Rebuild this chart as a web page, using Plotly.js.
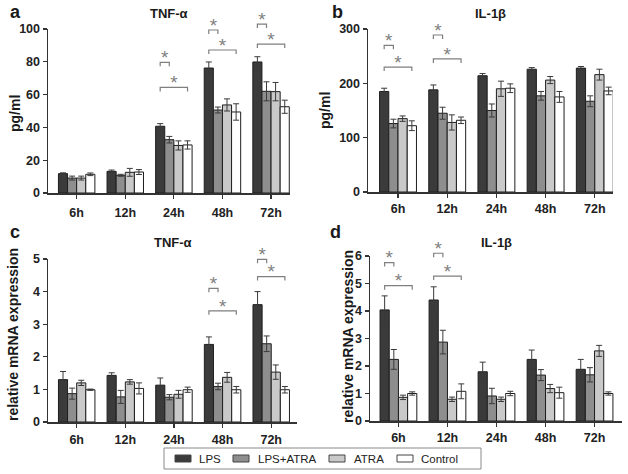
<!DOCTYPE html>
<html><head><meta charset="utf-8">
<script src="https://cdn.plot.ly/plotly-3.0.1.min.js"></script>
<style>html,body{margin:0;padding:0;background:#fff}#chart{width:628px;height:474px}</style>
</head><body><div id="chart"></div>
<script>
// ---------- data ----------
const categories = ['6h', '12h', '24h', '48h', '72h'];
const seriesNames = ['LPS', 'LPS+ATRA', 'ATRA', 'Control'];

// a: TNF-α protein (pg/ml)
const tnfProtLPS      = [11.8, 13.2, 40.7, 76.2, 79.9];
const tnfProtLPSErr   = [0.5, 0.8, 1.6, 3.7, 3.2];
const tnfProtLPSATRA  = [9.1, 10.8, 32.5, 50.6, 62.0];
const tnfProtLPSATRAErr = [1.2, 0.6, 2.0, 1.8, 5.8];
const tnfProtATRA     = [9.1, 12.6, 29.0, 53.7, 61.8];
const tnfProtATRAErr  = [1.2, 2.4, 2.8, 3.7, 5.6];
const tnfProtCtrl     = [11.4, 12.8, 29.3, 49.4, 52.6];
const tnfProtCtrlErr  = [0.8, 1.5, 2.5, 5.0, 4.0];

// b: IL-1β protein (pg/ml)
const ilProtLPS       = [185, 188, 214, 226, 228];
const ilProtLPSErr    = [6, 9, 4, 3, 3];
const ilProtLPSATRA   = [126, 145, 150, 177, 167];
const ilProtLPSATRAErr = [8, 11, 12, 8, 10];
const ilProtATRA      = [135, 128, 190, 206, 216];
const ilProtATRAErr   = [5, 14, 14, 6.5, 10];
const ilProtCtrl      = [122, 132, 191, 175, 186];
const ilProtCtrlErr   = [9, 6, 8, 10, 7];

// c: TNF-α relative mRNA expression
const tnfMrnaLPS      = [1.30, 1.43, 1.13, 2.38, 3.60];
const tnfMrnaLPSErr   = [0.25, 0.08, 0.22, 0.23, 0.40];
const tnfMrnaLPSATRA  = [0.87, 0.77, 0.76, 1.09, 2.40];
const tnfMrnaLPSATRAErr = [0.17, 0.20, 0.08, 0.10, 0.24];
const tnfMrnaATRA     = [1.20, 1.23, 0.85, 1.37, 1.53];
const tnfMrnaATRAErr  = [0.08, 0.07, 0.12, 0.15, 0.22];
const tnfMrnaCtrl     = [0.99, 1.03, 0.99, 0.99, 0.99];
const tnfMrnaCtrlErr  = [0.02, 0.17, 0.08, 0.10, 0.10];

// d: IL-1β relative mRNA expression
const ilMrnaLPS       = [4.04, 4.40, 1.79, 2.24, 1.88];
const ilMrnaLPSErr    = [0.51, 0.48, 0.35, 0.34, 0.36];
const ilMrnaLPSATRA   = [2.24, 2.87, 0.91, 1.67, 1.68];
const ilMrnaLPSATRAErr = [0.36, 0.43, 0.28, 0.20, 0.26];
const ilMrnaATRA      = [0.86, 0.79, 0.79, 1.18, 2.55];
const ilMrnaATRAErr   = [0.08, 0.08, 0.08, 0.15, 0.20];
const ilMrnaCtrl      = [1.00, 1.08, 1.00, 1.03, 1.00];
const ilMrnaCtrlErr   = [0.06, 0.27, 0.08, 0.20, 0.06];

// significance brackets (always from LPS to the named group)
const sigACats = ['24h', '24h', '48h', '48h', '72h', '72h'];
const sigATo   = ['LPS+ATRA', 'Control', 'LPS+ATRA', 'Control', 'LPS+ATRA', 'Control'];
const sigAY    = [79.7, 64.4, 99.4, 87.2, 103.0, 90.8];
const sigBCats = ['6h', '6h', '12h', '12h'];
const sigBTo   = ['LPS+ATRA', 'Control', 'LPS+ATRA', 'Control'];
const sigBY    = [270, 230, 289, 245];
const sigCCats = ['48h', '48h', '72h', '72h'];
const sigCTo   = ['LPS+ATRA', 'Control', 'LPS+ATRA', 'Control'];
const sigCY    = [4.10, 3.41, 4.99, 4.46];
const sigDCats = ['6h', '6h', '12h', '12h'];
const sigDTo   = ['LPS+ATRA', 'Control', 'LPS+ATRA', 'Control'];
const sigDY    = [5.76, 4.92, 6.10, 5.27];

// ---------- styling ----------
const W = 628, H = 474;
const FONT = 'Liberation Sans, Arial, sans-serif';
const seriesColors = ['#3b3b3b', '#8e8e8e', '#c9c9c9', '#ffffff'];
const BARGAP = 0.25;
const SIG_COLOR = '#7f7f7f';

const panels = [
  { letter: 'a', title: 'TNF-α', ytitle: 'pg/ml', ymax: 100, dtick: 20,
    vals: [tnfProtLPS, tnfProtLPSATRA, tnfProtATRA, tnfProtCtrl],
    errs: [tnfProtLPSErr, tnfProtLPSATRAErr, tnfProtATRAErr, tnfProtCtrlErr],
    sig: [sigACats, sigATo, sigAY],
    px: [48, 290], py: [29, 193], xr: [-0.59, 4.39],
    letterPos: [15, 12], titleY: 13, ytPos: [15, 114], standoff: 3 },
  { letter: 'b', title: 'IL-1β', ytitle: 'pg/ml', ymax: 300, dtick: 100,
    vals: [ilProtLPS, ilProtLPSATRA, ilProtATRA, ilProtCtrl],
    errs: [ilProtLPSErr, ilProtLPSATRAErr, ilProtATRAErr, ilProtCtrlErr],
    sig: [sigBCats, sigBTo, sigBY],
    px: [368, 613], py: [29, 192], xr: [-0.61, 4.37],
    letterPos: [337, 12], titleY: 13, ytPos: [325, 111], standoff: 0 },
  { letter: 'c', title: 'TNF-α', ytitle: 'relative mRNA expression', ymax: 5, dtick: 1,
    vals: [tnfMrnaLPS, tnfMrnaLPSATRA, tnfMrnaATRA, tnfMrnaCtrl],
    errs: [tnfMrnaLPSErr, tnfMrnaLPSATRAErr, tnfMrnaATRAErr, tnfMrnaCtrlErr],
    sig: [sigCCats, sigCTo, sigCY],
    px: [48, 297], py: [259, 422], xr: [-0.59, 4.53],
    letterPos: [15, 232], titleY: 243, ytPos: [13, 335], standoff: 1 },
  { letter: 'd', title: 'IL-1β', ytitle: 'relative mRNA expression', ymax: 6, dtick: 1,
    vals: [ilMrnaLPS, ilMrnaLPSATRA, ilMrnaATRA, ilMrnaCtrl],
    errs: [ilMrnaLPSErr, ilMrnaLPSATRAErr, ilMrnaATRAErr, ilMrnaCtrlErr],
    sig: [sigDCats, sigDTo, sigDY],
    px: [370, 622], py: [256, 421], xr: [-0.58, 4.56],
    letterPos: [335, 232], titleY: 243, ytPos: [348, 337], standoff: 0 }
];

// legend geometry (pixels)
const legendBox = [164, 448, 481, 469];
const legendSwatchX = [175, 233, 329, 397];
const legendTextX = [197, 256, 352, 419];

const xIdx = categories.map((c, i) => i);
const nS = seriesNames.length;
function barOffset(k) { return -(1 - BARGAP) / 2 + (k + 0.5) * (1 - BARGAP) / nS; }

const traces = [];
const annotations = [];
const shapes = [];
const layout = {
  width: W, height: H, margin: { l: 0, r: 0, t: 0, b: 0 },
  paper_bgcolor: '#fff', plot_bgcolor: 'rgba(0,0,0,0)',
  font: { family: FONT, color: '#222' },
  barmode: 'group', bargap: BARGAP, bargroupgap: 0,
  showlegend: false,
  annotations: annotations, shapes: shapes
};

panels.forEach((p, pi) => {
  const sfx = pi === 0 ? '' : String(pi + 1);
  const xa = 'x' + sfx, ya = 'y' + sfx;
  const sigSfx = String(pi + 5), yaSig = 'y' + sigSfx;
  for (let k = 0; k < nS; k++) {
    traces.push({
      type: 'bar', x: xIdx, y: p.vals[k], name: seriesNames[k],
      xaxis: xa, yaxis: ya, legendgroup: seriesNames[k],
      marker: { color: seriesColors[k], line: { color: '#1e1e1e', width: 1 } },
      error_y: { type: 'data', array: p.errs[k], visible: true, color: '#3a3a3a', thickness: 1, width: 3 },
      hoverinfo: 'skip'
    });
  }
  // invisible taller axis with the same value scale, so brackets above the top are not clipped
  const axisPx = p.py[1] - p.py[0];
  const extTopPx = Math.max(0, p.py[0] - 22);
  const extMax = p.ymax * (p.py[1] - extTopPx) / axisPx;
  layout['yaxis' + sigSfx] = {
    domain: [1 - p.py[1] / H, 1 - extTopPx / H], anchor: xa, range: [0, extMax],
    visible: false, showgrid: false, zeroline: false, fixedrange: true
  };
  const [cats, tos, ys] = p.sig;
  const tick = p.ymax * 4 / axisPx;
  const starOff = p.ymax * 3 / axisPx;
  const bx = [], by = [], sx = [], sy = [];
  cats.forEach((c, j) => {
    const ci = categories.indexOf(c);
    const x0 = ci + barOffset(0);
    const x1 = ci + barOffset(seriesNames.indexOf(tos[j]));
    bx.push(x0, x0, x1, x1, null);
    by.push(ys[j] - tick, ys[j], ys[j], ys[j] - tick, null);
    sx.push((x0 + x1) / 2);
    sy.push(ys[j] + starOff);
  });
  traces.push({
    type: 'scatter', mode: 'lines', x: bx, y: by, xaxis: xa, yaxis: yaSig,
    line: { color: SIG_COLOR, width: 1.2 }, showlegend: false, hoverinfo: 'skip'
  });
  traces.push({
    type: 'scatter', mode: 'text', x: sx, y: sy, text: sx.map(() => '*'), xaxis: xa, yaxis: yaSig,
    textposition: 'middle center', textfont: { size: 19, color: SIG_COLOR, family: FONT },
    cliponaxis: false, showlegend: false, hoverinfo: 'skip'
  });

  layout['xaxis' + sfx] = {
    domain: [p.px[0] / W, p.px[1] / W], anchor: ya, range: p.xr,
    tickmode: 'array', tickvals: xIdx, ticktext: categories,
    showgrid: false, zeroline: false, showline: true, linecolor: '#333', linewidth: 1.5,
    ticks: 'outside', ticklen: 4, tickwidth: 1.2, tickcolor: '#333',
    ticklabelstandoff: p.standoff,
    tickfont: { family: FONT, size: 12.5, color: '#222', weight: 'bold' }, fixedrange: true
  };
  layout['yaxis' + sfx] = {
    domain: [1 - p.py[1] / H, 1 - p.py[0] / H], anchor: xa, range: [0, p.ymax],
    tick0: 0, dtick: p.dtick, showgrid: false, zeroline: false,
    showline: true, linecolor: '#333', linewidth: 1.5,
    ticks: 'outside', ticklen: 4, tickwidth: 1.2, tickcolor: '#333',
    tickfont: { family: FONT, size: 12.5, color: '#222', weight: 'bold' }, fixedrange: true
  };
  annotations.push({ xref: 'paper', yref: 'paper', x: p.letterPos[0] / W, y: 1 - p.letterPos[1] / H,
    xanchor: 'center', yanchor: 'middle', showarrow: false, text: '<b>' + p.letter + '</b>',
    font: { family: FONT, size: 18, color: '#1a1a1a' } });
  annotations.push({ xref: 'paper', yref: 'paper', x: (p.px[0] + p.px[1]) / 2 / W, y: 1 - p.titleY / H,
    xanchor: 'center', yanchor: 'middle', showarrow: false, text: '<b>' + p.title + '</b>',
    font: { family: FONT, size: 13, color: '#1a1a1a' } });
  annotations.push({ xref: 'paper', yref: 'paper', x: p.ytPos[0] / W, y: 1 - p.ytPos[1] / H,
    xanchor: 'center', yanchor: 'middle', showarrow: false, textangle: -90, text: '<b>' + p.ytitle + '</b>',
    font: { family: FONT, size: 14, color: '#1a1a1a' } });
});

// legend: framed box with flat swatches
shapes.push({ type: 'rect', xref: 'paper', yref: 'paper',
  x0: legendBox[0] / W, x1: legendBox[2] / W, y0: 1 - legendBox[3] / H, y1: 1 - legendBox[1] / H,
  line: { color: '#8a8a8a', width: 1 }, fillcolor: '#fff' });
const legendMidY = (legendBox[1] + legendBox[3]) / 2;
seriesNames.forEach((name, k) => {
  shapes.push({ type: 'rect', xref: 'paper', yref: 'paper',
    x0: legendSwatchX[k] / W, x1: (legendSwatchX[k] + 16) / W,
    y0: 1 - (legendMidY + 3.5) / H, y1: 1 - (legendMidY - 3.5) / H,
    line: { color: '#444', width: 1 }, fillcolor: seriesColors[k] });
  annotations.push({ xref: 'paper', yref: 'paper', x: legendTextX[k] / W, y: 1 - legendMidY / H,
    xanchor: 'left', yanchor: 'middle', showarrow: false, text: name,
    font: { family: FONT, size: 11.5, color: '#222' } });
});

Plotly.newPlot('chart', traces, layout, { staticPlot: true, displayModeBar: false });
</script>
</body></html>
